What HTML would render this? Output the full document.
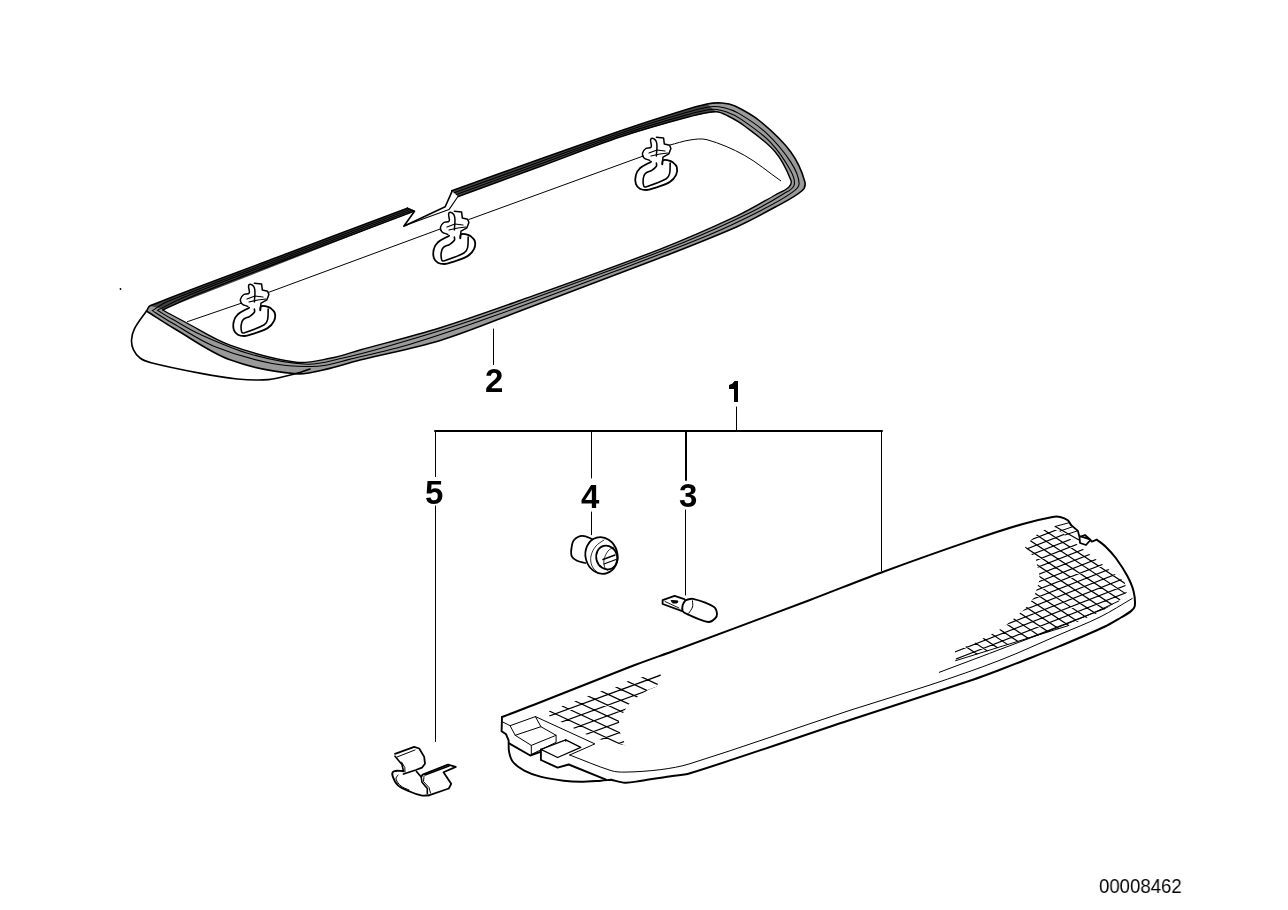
<!DOCTYPE html>
<html><head><meta charset="utf-8"><style>
html,body{margin:0;padding:0;background:#fff;width:1288px;height:910px;overflow:hidden}
svg{position:absolute;left:0;top:0}
.lb{position:absolute;will-change:transform;font-family:"Liberation Sans",sans-serif;font-weight:bold;font-size:33px;line-height:1;color:#000}
.id{position:absolute;will-change:transform;font-family:"Liberation Sans",sans-serif;font-size:21px;line-height:1;color:#000;transform-origin:0 0}
</style></head><body>
<svg width="1288" height="910" viewBox="0 0 1288 910" stroke="#000" stroke-linejoin="round" stroke-linecap="round" fill="none"><path d="M451.8,190.7 C479.9,180.6 507.9,170.5 536,160.5 C564,150.6 591.9,140.6 620,131 C639.9,124.2 659.9,117.7 680,111.5 C688.9,108.7 697.8,105.9 707,104 C711.9,103 717,102.6 722,103 C726.4,103.3 731,104.1 735,106 C743.7,110.2 752.3,114.9 759.8,121 C771.1,130.3 782.1,140.3 790.8,152 C797.3,160.8 801.9,171.1 804.8,181.6 C805.7,184.8 804.2,188.8 801.7,191 C793.9,197.7 784.3,202 775.3,207 C762.7,213.9 750.1,220.9 737,226.7 C711.3,238 685.1,248.1 659,258.3 C612.8,276.2 566.4,293.6 520,311 C493.2,321.1 466.8,332.3 439.5,340.7 C413.4,348.7 386.4,353.3 360,360 C349.9,362.5 340.2,366.2 330,368.4 C318.8,370.8 307.4,374.8 296,373.8 C273.6,371.9 251.1,367.6 230,359.8 C210.3,352.5 193.1,339.6 175,329 C165.3,323.3 156,317 146.5,311 C147.7,309.3 148.1,306.6 150,305.8 C192.2,288.5 235.3,273.2 278,257 C321.1,240.7 364.3,224.5 407.4,208.2 L414.5,211.2 C371.3,227.5 328.1,243.5 285,260 C256.6,270.9 228.2,281.7 200,293.2 C187.3,298.4 175,304.4 162.5,310 C165,311.3 167.5,312.7 170,314 C175,316.7 180,319.4 185,322 C200,329.8 214.1,339.4 230,345.1 C251.4,352.8 273.5,359.2 296,362.2 C307.3,363.7 318.8,360.4 330,358.3 C340.2,356.4 350,352.8 360,350 C386.5,342.7 413.2,336.1 439.5,328 C466.6,319.6 493.3,310 520,300.5 C566.5,283.9 613,267.5 659,249.6 C685.4,239.3 711.4,227.9 737,215.9 C750.2,209.7 762.6,202.1 775.3,195 C779.9,192.4 785.2,190.7 789,187 C790.7,185.3 791.7,182.2 790.8,180 C786.9,170.1 782.2,160.1 775.3,152 C766.5,141.7 755,133.9 744.2,125.7 C739.2,121.9 733.6,118.8 728,116 C724.2,114.1 720.2,111.7 716,111.8 C707.2,111.9 698.5,114.3 690,116.5 C666.5,122.7 643.1,129.3 620,137 C593,146 566.7,156.7 540,166.5 C512.8,176.5 485.5,186.5 458.3,196.5Z" fill="#9a9a9a" stroke="none"/>
<path d="M150,305.8 L407.4,208.2 L414.5,211.2 L409,213.3 L163,309.5Z" fill="#444" stroke="none"/>
<path d="M451.8,190.7 L536,160.5 L620,131 L680,111.5 L707,104 L716,111.8 L690,116.5 L620,137 L540,166.5 L458.3,196.5Z" fill="#444" stroke="none"/>
<path d="M451.8,190.7 C479.9,180.6 507.9,170.5 536,160.5 C564,150.6 591.9,140.6 620,131 C639.9,124.2 659.9,117.7 680,111.5 C688.9,108.7 697.8,105.9 707,104 C711.9,103 717,102.6 722,103 C726.4,103.3 731,104.1 735,106 C743.7,110.2 752.3,114.9 759.8,121 C771.1,130.3 782.1,140.3 790.8,152 C797.3,160.8 801.9,171.1 804.8,181.6 C805.7,184.8 804.2,188.8 801.7,191 C793.9,197.7 784.3,202 775.3,207 C762.7,213.9 750.1,220.9 737,226.7 C711.3,238 685.1,248.1 659,258.3 C612.8,276.2 566.4,293.6 520,311 C493.2,321.1 466.8,332.3 439.5,340.7 C413.4,348.7 386.4,353.3 360,360 C349.9,362.5 340.2,366.2 330,368.4 C318.8,370.8 307.4,374.8 296,373.8 C273.6,371.9 251.1,367.6 230,359.8 C210.3,352.5 193.1,339.6 175,329 C165.3,323.3 156,317 146.5,311 C147.7,309.3 148.1,306.6 150,305.8 C192.2,288.5 235.3,273.2 278,257 C321.1,240.7 364.3,224.5 407.4,208.2" stroke-width="1.6" fill="none"/>
<path d="M454.1,192.8 C481.9,182.7 509.7,172.6 537.4,162.7 C564.9,152.8 592.3,142.5 620,133.2 C641,126.1 662.3,119.5 683.6,113.3 C692.4,110.7 701.2,108.1 710.2,106.8 C714.8,106.2 719.6,106.7 724.2,107.7 C729.1,108.8 734,110.5 738.3,113.1 C747.8,118.7 757.3,124.6 765.4,132.2 C774.9,141.1 783.6,151.1 790.8,162.1 C795,168.5 798.8,175.9 799.1,183.5 C799.3,187.3 795.3,190.3 792.2,192.4 C782.6,199.3 772,204.8 761.5,210.2 C744.3,219 726.8,227.5 708.9,234.9 C675.9,248.6 642.4,260.9 609,273.5 C569.7,288.3 530.5,303.1 491,317.1 C464.5,326.6 437.9,336 410.9,344 C390.6,350.1 369.8,354.5 349.2,359.4 C338.8,361.9 328.5,365.6 317.8,366.2 C302.6,367 287.2,366.3 272.2,363.5 C252.3,359.6 232.6,353.8 213.8,346.2 C199.4,340.4 186.6,331.3 173.2,323.6 C166.1,319.5 159.2,315 152.3,310.6 C157.5,307.5 162.3,303.6 168,301.3 C205.2,286 243,272.4 280.5,258.1 C323.6,241.7 366.8,225.5 410,209.3" stroke-width="1.1" fill="none"/>
<path d="M456.2,194.6 C483.7,184.6 511.2,174.6 538.7,164.6 C565.8,154.7 592.7,144.2 620,135.1 C642.1,127.7 664.4,121.1 686.8,114.9 C695.4,112.5 704.2,110 713.1,109.3 C717.5,109 721.9,110.4 726.1,111.8 C731.4,113.7 736.6,116.2 741.3,119.4 C751.4,126.3 761.8,133.2 770.3,142.1 C778.5,150.6 785.1,160.7 790.8,171 C793.1,175.3 795.5,180.6 794.1,185.3 C792.7,189.5 787.5,191.4 783.7,193.7 C772.5,200.7 761.1,207.3 749.3,213.1 C727.8,223.5 706.1,233.4 684,242.3 C644.5,258.1 604.4,272.3 564.5,287 C531.5,299.1 498.6,311.4 465.3,322.6 C438.9,331.4 412.2,339.3 385.4,347 C370.3,351.4 355,355.5 339.6,358.8 C328.8,361.2 317.9,364.8 306.9,364.2 C288,363.2 269.3,359.4 251.1,354.3 C233.3,349.3 216.3,341.6 199.4,334.1 C189.7,329.8 180.8,324 171.6,318.8 C166.8,316.1 162.1,313.1 157.4,310.3 C166.3,306 174.8,301 184,297.2 C216.7,283.9 249.8,271.6 282.8,259 C325.9,242.6 369.1,226.5 412.2,210.2" stroke-width="1.1" fill="none"/>
<path d="M458.3,196.5 C485.5,186.5 512.8,176.5 540,166.5 C566.7,156.7 593,146 620,137 C643.1,129.3 666.5,122.7 690,116.5 C698.5,114.3 707.2,111.9 716,111.8 C720.2,111.7 724.2,114.1 728,116 C733.6,118.8 739.2,121.9 744.2,125.7 C755,133.9 766.5,141.7 775.3,152 C782.2,160.1 786.9,170.1 790.8,180 C791.7,182.2 790.7,185.3 789,187 C785.2,190.7 779.9,192.4 775.3,195 C762.6,202.1 750.2,209.7 737,215.9 C711.4,227.9 685.4,239.3 659,249.6 C613,267.5 566.5,283.9 520,300.5 C493.3,310 466.6,319.6 439.5,328 C413.2,336.1 386.5,342.7 360,350 C350,352.8 340.2,356.4 330,358.3 C318.8,360.4 307.3,363.7 296,362.2 C273.5,359.2 251.4,352.8 230,345.1 C214.1,339.4 200,329.8 185,322 C180,319.4 175,316.7 170,314 C167.5,312.7 165,311.3 162.5,310 C175,304.4 187.3,298.4 200,293.2 C228.2,281.7 256.6,270.9 285,260 C328.1,243.5 371.3,227.5 414.5,211.2" stroke-width="1.4" fill="none"/>
<path d="M407.4,208.2 L414.5,211.2 L403.8,226.3 L445.2,206.8 L451.8,191.9 L451.8,190.7" stroke-width="1.6" fill="none"/>
<path d="M405,225.4 L449,209.6 L458.3,196" stroke-width="1.1" fill="none"/>
<path d="M146.5,311 C142.4,317 137.6,322.6 134.3,329.1 C132.5,332.5 131.7,336.5 131.5,340.3 C131.4,343.5 132,346.7 133.4,349.6 C134.9,352.8 137.1,355.9 140,358 C143.2,360.4 147.2,361.7 151.1,362.7 C167.6,366.9 184.3,370.2 201,373.4 C213,375.7 225.1,377.9 237.3,379 C247.6,379.9 258,380.6 268.3,379.6 C278,378.7 287.5,375.8 297,373.4 C301.4,372.3 305.7,370.5 310,369" stroke-width="1.6" fill="none"/>
<path d="M187.4,321.7 L241,303.3" stroke-width="1" fill="none"/>
<path d="M268.5,292.4 L439.9,229.1" stroke-width="1" fill="none"/>
<path d="M468.9,219.5 L643.3,156" stroke-width="1" fill="none"/>
<path d="M669.7,145.1 C676.5,143.4 683.1,141 690,140 C695.6,139.2 701.5,138.2 707,139.7 C719.9,143.3 732.5,148.7 744.2,155.2 C757.2,162.4 768.5,172.3 780.7,180.8" stroke-width="1" fill="none"/>
<circle cx="120.5" cy="289" r="0.9" fill="#000" stroke="none"/>
<g id="clipsym"><path d="M449.1,235.7 C445.4,237.9 441.2,239.5 437.9,242.3 C436,244 434.5,246.4 433.9,248.9 C433.1,251.9 433,255.2 433.9,258.1 C434.5,260.1 436.1,261.7 437.9,262.7 C439.9,263.8 442.3,264 444.5,264 C446.5,264 448.5,263.4 450.4,262.7 C456.2,260.7 462.3,259.2 467.6,256.1 C470.4,254.5 472.7,251.8 474.1,248.9 C475.2,246.5 475.5,243.6 474.8,241 C474.3,239 472.4,237.6 470.8,236.3 C469.5,235.3 467.8,234.7 466.2,234.4 C464.5,234.1 462.4,233.4 461,234.4 C459.9,235.1 460.5,237 460.3,238.3" stroke-width="1.8" fill="none"/><path d="M454.4,237 C454.4,238.1 455,239.4 454.4,240.3 C453.3,242 451.5,243.2 449.8,244.3 C447.7,245.6 444.9,245.9 443.2,247.6 C441.9,248.9 441.4,251 441.2,252.8 C440.9,255.2 440.9,257.8 441.8,260.1 C442.2,261 443.6,261 444.5,260.7 C451.3,258.5 458.1,256.3 464.3,252.8 C466.1,251.8 467.1,249.6 467.6,247.6 C468.4,244.2 468,240.5 468.2,237" stroke-width="1.6" fill="none"/><path d="M447.8,234.4 C445.8,233.5 443.4,233.3 441.8,231.7 C440.7,230.6 440.2,228.7 440.5,227.1 C440.9,225.3 442.2,223.6 443.8,222.5 C445.3,221.5 448.2,222.8 449.1,221.2 C450.5,218.7 447.1,214.6 449.1,212.6 C450.6,211.1 453.8,213.9 454.4,215.9 C455.8,220.4 454.4,225.3 454.4,230" stroke-width="1.5" fill="none"/><path d="M454.4,211.3 L461.6,212 L462.3,217.9 L467.6,219.2 L468.9,222.5 L466.9,227.8 L461,231.1 L460.3,238" stroke-width="1.5" fill="none"/><path d="M447,227 L455,224 L463,225" stroke-width="1.2" fill="none"/><path d="M449,230 L458,228 L466,227" stroke-width="1.2" fill="none"/></g>
<g transform="translate(-200,72)"><g><path d="M449.1,235.7 C445.4,237.9 441.2,239.5 437.9,242.3 C436,244 434.5,246.4 433.9,248.9 C433.1,251.9 433,255.2 433.9,258.1 C434.5,260.1 436.1,261.7 437.9,262.7 C439.9,263.8 442.3,264 444.5,264 C446.5,264 448.5,263.4 450.4,262.7 C456.2,260.7 462.3,259.2 467.6,256.1 C470.4,254.5 472.7,251.8 474.1,248.9 C475.2,246.5 475.5,243.6 474.8,241 C474.3,239 472.4,237.6 470.8,236.3 C469.5,235.3 467.8,234.7 466.2,234.4 C464.5,234.1 462.4,233.4 461,234.4 C459.9,235.1 460.5,237 460.3,238.3" stroke-width="1.8" fill="none"/><path d="M454.4,237 C454.4,238.1 455,239.4 454.4,240.3 C453.3,242 451.5,243.2 449.8,244.3 C447.7,245.6 444.9,245.9 443.2,247.6 C441.9,248.9 441.4,251 441.2,252.8 C440.9,255.2 440.9,257.8 441.8,260.1 C442.2,261 443.6,261 444.5,260.7 C451.3,258.5 458.1,256.3 464.3,252.8 C466.1,251.8 467.1,249.6 467.6,247.6 C468.4,244.2 468,240.5 468.2,237" stroke-width="1.6" fill="none"/><path d="M447.8,234.4 C445.8,233.5 443.4,233.3 441.8,231.7 C440.7,230.6 440.2,228.7 440.5,227.1 C440.9,225.3 442.2,223.6 443.8,222.5 C445.3,221.5 448.2,222.8 449.1,221.2 C450.5,218.7 447.1,214.6 449.1,212.6 C450.6,211.1 453.8,213.9 454.4,215.9 C455.8,220.4 454.4,225.3 454.4,230" stroke-width="1.5" fill="none"/><path d="M454.4,211.3 L461.6,212 L462.3,217.9 L467.6,219.2 L468.9,222.5 L466.9,227.8 L461,231.1 L460.3,238" stroke-width="1.5" fill="none"/><path d="M447,227 L455,224 L463,225" stroke-width="1.2" fill="none"/><path d="M449,230 L458,228 L466,227" stroke-width="1.2" fill="none"/></g></g>
<g transform="translate(202,-74)"><g><path d="M449.1,235.7 C445.4,237.9 441.2,239.5 437.9,242.3 C436,244 434.5,246.4 433.9,248.9 C433.1,251.9 433,255.2 433.9,258.1 C434.5,260.1 436.1,261.7 437.9,262.7 C439.9,263.8 442.3,264 444.5,264 C446.5,264 448.5,263.4 450.4,262.7 C456.2,260.7 462.3,259.2 467.6,256.1 C470.4,254.5 472.7,251.8 474.1,248.9 C475.2,246.5 475.5,243.6 474.8,241 C474.3,239 472.4,237.6 470.8,236.3 C469.5,235.3 467.8,234.7 466.2,234.4 C464.5,234.1 462.4,233.4 461,234.4 C459.9,235.1 460.5,237 460.3,238.3" stroke-width="1.8" fill="none"/><path d="M454.4,237 C454.4,238.1 455,239.4 454.4,240.3 C453.3,242 451.5,243.2 449.8,244.3 C447.7,245.6 444.9,245.9 443.2,247.6 C441.9,248.9 441.4,251 441.2,252.8 C440.9,255.2 440.9,257.8 441.8,260.1 C442.2,261 443.6,261 444.5,260.7 C451.3,258.5 458.1,256.3 464.3,252.8 C466.1,251.8 467.1,249.6 467.6,247.6 C468.4,244.2 468,240.5 468.2,237" stroke-width="1.6" fill="none"/><path d="M447.8,234.4 C445.8,233.5 443.4,233.3 441.8,231.7 C440.7,230.6 440.2,228.7 440.5,227.1 C440.9,225.3 442.2,223.6 443.8,222.5 C445.3,221.5 448.2,222.8 449.1,221.2 C450.5,218.7 447.1,214.6 449.1,212.6 C450.6,211.1 453.8,213.9 454.4,215.9 C455.8,220.4 454.4,225.3 454.4,230" stroke-width="1.5" fill="none"/><path d="M454.4,211.3 L461.6,212 L462.3,217.9 L467.6,219.2 L468.9,222.5 L466.9,227.8 L461,231.1 L460.3,238" stroke-width="1.5" fill="none"/><path d="M447,227 L455,224 L463,225" stroke-width="1.2" fill="none"/><path d="M449,230 L458,228 L466,227" stroke-width="1.2" fill="none"/></g></g>
<line x1="493.5" y1="329" x2="493.5" y2="364.6" stroke-width="1"/>
<path d="M435,431 L882,431" stroke-width="2"/>
<line x1="736.5" y1="407" x2="736.5" y2="430" stroke-width="1"/>
<path d="M729,385 L732.5,383.5 L734.5,381 L738,381 L738,402 L734,402 L734,389 L729,389Z" fill="#000" stroke="none"/>
<line x1="435.5" y1="431" x2="435.5" y2="476.6" stroke-width="1"/>
<line x1="435.5" y1="506" x2="435.5" y2="741.5" stroke-width="1"/>
<line x1="591.5" y1="431" x2="591.5" y2="478" stroke-width="1"/>
<line x1="591.5" y1="512" x2="591.5" y2="534.7" stroke-width="1"/>
<line x1="686" y1="431" x2="686" y2="480" stroke-width="2"/>
<line x1="685.5" y1="510" x2="685.5" y2="595" stroke-width="1"/>
<line x1="881.5" y1="431" x2="881.5" y2="570.6" stroke-width="1"/>
<path d="M593.3,539.5 C589.7,538.3 586.2,535.8 582.4,535.9 C579.3,536 576.1,537.7 574,540 C572.1,542.1 571.9,545.2 571.5,548 C571.1,550.8 570.7,553.8 571.8,556.4 C572.7,558.5 575,559.7 577,560.7 C579.6,562 582.6,562.2 585.4,563" stroke-width="1.8" fill="none"/>
<ellipse cx="601.5" cy="555.5" rx="16" ry="18.5" transform="rotate(-15 601.5 555.5)" fill="#fff" stroke-width="1.8"/>
<ellipse cx="606.8" cy="557.5" rx="10.5" ry="12" transform="rotate(-15 606.8 557.5)" fill="none" stroke-width="1.8"/>
<path d="M604,540 C601.3,542 598.1,543.4 596,546 C593.6,548.9 591.7,552.3 591,556 C590.3,559.3 590.7,562.9 592,566 C593.2,568.8 596,570.7 598,573" stroke-width="0.8" fill="none"/>
<path d="M614,547 C612,548.3 609.5,549.1 608,551 C606,553.6 604.6,556.8 604,560 C603.5,562.6 604.1,565.5 605,568 C605.5,569.3 607,570 608,571" stroke-width="0.8" fill="none"/>
<path d="M603,559.5 L615,555" stroke-width="1.5" fill="none"/>
<path d="M604,564 L616,559.5" stroke-width="1.3" fill="none"/>
<path d="M684.3,599.1 L674.6,595.9 L662.6,600.2 L662.6,604 L682.2,611.1" stroke-width="1.8" fill="none"/>
<path d="M665,601.5 L679,608" stroke-width="0.9" fill="none"/>
<path d="M671.5,600.5 L678,601 L677,603 L673,603Z" fill="#000" stroke-width="1"/>
<path d="M685.4,600.2 C687.9,599.7 690.5,598.2 693,598.8 C700.2,600.5 707.4,602.8 713.7,606.7 C715.9,608.1 716.8,611.2 717,613.8 C717.2,615.6 716.1,617.5 714.8,618.7 C713,620.4 710.7,622.4 708.3,622 C701,620.8 694.4,617.2 687.6,614.3 C685.8,613.5 683.6,612.8 682.7,611.1 C681.8,609.3 682.2,607 682.7,605.1 C683.1,603.3 684.5,601.8 685.4,600.2" stroke-width="1.9" fill="none"/>
<path d="M692.5,600.8 C692.5,602.9 693.1,605 692.5,607 C691.8,609.3 690,611.2 688.7,613.3" stroke-width="1" fill="none"/>
<path d="M395,753.8 L414.2,746.9 L419.2,748.5 L424.2,756.9 L425,763.8 L421.9,767.7 L415.8,770 L403.5,774" stroke-width="1.8" fill="none"/>
<path d="M395,756.2 L402,764.6 L403.5,771.5" stroke-width="1.6" fill="none"/>
<path d="M397,757 L415,750" stroke-width="1" fill="none"/>
<path d="M403.5,771 C400.2,771.2 396.5,770.1 393.5,771.5 C392.1,772.2 392.2,774.7 392.7,776.2 C393.8,779.6 395.4,783 398,785.4 C401.2,788.3 405.6,789.8 409.6,791.5 C413.3,793.1 417.2,794.6 421.2,795.4 C423.7,795.9 426.3,795.4 428.8,795.4" stroke-width="1.9" fill="none"/>
<path d="M416.5,771.5 L421.2,777 L422.7,774.6 L448,764.6 L455.8,766.9 L443.5,772.3 L451.2,783.8 L448.8,788.5 L428.8,795.4" stroke-width="1.8" fill="none"/>
<path d="M421.2,777 L422,782.3 L427.3,788.5 L427.3,793.8" stroke-width="1.6" fill="none"/>
<path d="M425,775 L449,766" stroke-width="1.5" fill="none"/>
<path d="M401.5,762 L404.8,767.5 L405,772" stroke-width="1" fill="none"/>
<path d="M398,775 C397.3,776.3 395.6,777.6 396,779 C396.8,781.8 398.8,784.1 401,786 C403.3,787.9 406.3,788.7 409,790" stroke-width="1" fill="none"/>
<path d="M424,776.5 L423.5,781.5 L429,787.5 L430.5,793" stroke-width="1" fill="none"/>
<path d="M502,717 C512.5,713 523,709.1 533.4,705 C567.3,691.7 601,678.1 634.9,665 C648.6,659.7 662.5,655.1 676.2,650 C720.8,633.4 765.5,616.8 810,600 C833.6,591.1 857,581.4 880.7,572.7 C910.9,561.6 941.2,550.8 971.6,540.4 C988.3,534.7 1005,529.1 1022,524.2 C1032.1,521.3 1042.3,518.9 1052.6,517 C1055.1,516.5 1057.7,516.5 1060.2,517 C1062.9,517.6 1065.6,518.6 1067.8,520.2 C1069.3,521.3 1069.9,523.4 1071,525" stroke-width="2" fill="none"/>
<path d="M1071,525 L1077.9,530.9 L1079.2,536 L1083,537.2 L1089.3,539.1 L1091.8,541.6 L1096.9,539.7" stroke-width="1.8" fill="none"/>
<path d="M1079.5,537 L1085,535 L1090.5,540 L1086,545 L1080,543Z" stroke-width="1.8" fill="none"/>
<path d="M1096.9,539.7 C1099.8,542 1103,544.1 1105.7,546.7 C1109.3,550.2 1112.8,553.9 1115.8,558 C1120,563.7 1123.9,569.6 1127.2,575.8 C1129.8,580.6 1132.2,585.7 1133.5,591 C1134.7,595.9 1135.4,601.1 1134.8,606.1 C1134.5,608.2 1132.6,609.8 1131,611.1 C1127.9,613.6 1124.4,615.5 1121,617.5 C1115.7,620.6 1110.5,623.9 1105,626.5 C1089.9,633.6 1074.5,640 1059.2,646.4 C1047.9,651.1 1036.6,655.5 1025.2,660 C1016.8,663.3 1008.4,666.6 1000,669.8 C991.2,673.1 982.5,676.5 973.6,679.5 C932.5,693.3 891.2,706.4 850,720 C796.6,737.7 743.7,756.6 690,773.3 C683.3,775.4 676.2,775.3 669.3,776.4 C659.5,777.9 649.8,779.6 640,781 C635,781.7 630,782.9 625,782.7 C620.3,782.5 615.7,780.7 611.1,779.7" stroke-width="2" fill="none"/>
<path d="M502,717 L501.6,731.2 L506.1,734.3 L508.6,740.3 C508.8,744.2 508.3,748.2 509.1,752 C509.8,755.5 510.7,759.2 513,762 C516,765.7 520.1,768.4 524.3,770.6 C529.4,773.3 534.8,775.3 540.4,776.7 C548,778.7 555.8,779.7 563.6,780.7 C569.3,781.4 575.1,781.7 580.8,781.7 C587.5,781.7 594.3,781.1 601,780.7 C604.4,780.5 607.7,780 611.1,779.7" stroke-width="1.9" fill="none"/>
<path d="M509.1,743.4 L530.3,755.5 L540.4,751.9" stroke-width="1.9" fill="none"/>
<path d="M540.9,749.4 L540.9,760 L557.6,767.6 L568.7,764.5 L606,779.7" stroke-width="1.9" fill="none"/>
<path d="M569.7,755 C583.5,760.2 597,766.2 611.1,770.6 C615.6,772 620.3,772.2 625,772.1 C637,771.9 648.9,771.1 660.8,769.6 C670.6,768.3 680.5,766.7 690,763.7 C743.7,746.9 796.6,727.8 850,710.3 C876.6,701.6 903.5,693.9 930,685 C953.5,677.2 976.9,669.2 1000,660.2 C1020.3,652.3 1040,643 1060,634.4 C1073.3,628.6 1087,623.5 1100,617 C1111.1,611.5 1121.5,604.7 1132.2,598.5" stroke-width="1" fill="none"/>
<path d="M955.6,660.7 L1068.2,625.7" stroke-width="1" fill="none"/>
<path d="M939.3,672.3 C972.9,659.6 1006.5,647.1 1040,634.3 C1055.1,628.5 1070.1,622.8 1085,616.5 C1096.4,611.7 1107.5,606.2 1118.8,601" stroke-width="1" fill="none"/>
<path d="M502.1,721.7 L510.1,725.7 L535.4,716.6 L540.9,726.7 L556.1,735.3 L556.1,742.3 L531.3,754.5" stroke-width="1" fill="none"/>
<path d="M510.1,725.7 L515.2,735.3 L531.3,745.4 L556.1,735.3" stroke-width="1" fill="none"/>
<path d="M515.2,735.3 L540.9,726.7" stroke-width="1" fill="none"/>
<path d="M531.3,745.4 L531.3,754.5" stroke-width="1" fill="none"/>
<path d="M540.9,749.4 L565.7,739.8 L580.8,747.4 L557.6,757.5 L540.9,749.4" stroke-width="1.3" fill="none"/>
<path d="M535.4,716.6 L594.9,743.9 L569.7,755" stroke-width="1" fill="none"/>
<path d="M565.7,739.8 L565.7,741" stroke-width="1.5" fill="none"/>
<clipPath id="gl"><path d="M549,711 L565,705 L588,696 L603,690.5 L618,686.5 L629,680.5 L640,677.5 L661,674.5 L657,686.5 L648,690 L638,696.5 L629,704 L624,711.5 L619,720 L619.5,730.5 L621,735.5 L626,745.5 L608.5,742 L589.5,736 L575,729 L561,722 L549,716Z"/></clipPath>
<path d="M540,677 L670,629.3 M540,687.6 L670,639.9 M540,698.2 L670,650.5 M540,708.8 L670,661.1 M540,719.4 L670,671.7 M540,730 L670,682.3 M540,740.6 L670,692.9 M540,751.2 L670,703.5 M540,761.8 L670,714.1 M540,772.4 L670,724.7 M540,574.7 L670,635.2 M540,585.7 L670,646.2 M540,596.7 L670,657.2 M540,607.7 L670,668.2 M540,618.7 L670,679.2 M540,629.7 L670,690.2 M540,640.7 L670,701.2 M540,651.7 L670,712.2 M540,662.7 L670,723.2 M540,673.7 L670,734.2 M540,684.7 L670,745.2 M540,695.7 L670,756.2 M540,706.7 L670,767.2 M540,717.7 L670,778.2 M540,728.7 L670,789.2" stroke-width="1.2" clip-path="url(#gl)"/>
<clipPath id="gr"><path d="M1040.5,531 L1050,528.5 L1060,531 L1124.7,582 L1127,592 L1120,600 L1102,611 L1068,626 L1025,639.5 L983,652.5 L956,661 L955,651 L974.6,643 L1002.6,628 L1024.9,609 L1034,597.5 L1039.7,579.3 L1038.9,572.7 L1035.6,558.7 L1024.9,547.2 L1030,541Z"/></clipPath>
<path d="M940,507.8 L1140,429.8 M940,515.3 L1140,437.3 M940,522.8 L1140,444.8 M940,530.3 L1140,452.3 M940,537.8 L1140,459.8 M940,545.3 L1140,467.3 M940,552.8 L1140,474.8 M940,560.3 L1140,482.3 M940,567.8 L1140,489.8 M940,575.3 L1140,497.3 M940,582.8 L1140,504.8 M940,590.3 L1140,512.3 M940,597.8 L1140,519.8 M940,605.3 L1140,527.3 M940,612.8 L1140,534.8 M940,620.3 L1140,542.3 M940,627.8 L1140,549.8 M940,635.3 L1140,557.3 M940,642.8 L1140,564.8 M940,650.3 L1140,572.3 M940,657.8 L1140,579.8 M940,665.3 L1140,587.3 M940,672.8 L1140,594.8 M940,680.3 L1140,602.3 M940,687.8 L1140,609.8 M940,695.3 L1140,617.3 M940,702.8 L1140,624.8 M940,710.3 L1140,632.3 M940,322.7 L1140,454.7 M940,332.6 L1140,464.6 M940,342.5 L1140,474.5 M940,352.4 L1140,484.4 M940,362.3 L1140,494.3 M940,372.2 L1140,504.2 M940,382.1 L1140,514.1 M940,392 L1140,524 M940,401.9 L1140,533.9 M940,411.8 L1140,543.8 M940,421.7 L1140,553.7 M940,431.6 L1140,563.6 M940,441.5 L1140,573.5 M940,451.4 L1140,583.4 M940,461.3 L1140,593.3 M940,471.2 L1140,603.2 M940,481.1 L1140,613.1 M940,491 L1140,623 M940,500.9 L1140,632.9 M940,510.8 L1140,642.8 M940,520.7 L1140,652.7 M940,530.6 L1140,662.6 M940,540.5 L1140,672.5 M940,550.4 L1140,682.4 M940,560.3 L1140,692.3 M940,570.2 L1140,702.2 M940,580.1 L1140,712.1 M940,590 L1140,722 M940,599.9 L1140,731.9 M940,609.8 L1140,741.8 M940,619.7 L1140,751.7 M940,629.6 L1140,761.6" stroke-width="1.2" clip-path="url(#gr)"/>
<path d="M1055.2,526.5 L1069,522.7" stroke-width="1" fill="none"/>
<path d="M1055.2,526.5 L1079,540" stroke-width="1.2" fill="none"/>
<path d="M1060,531 L1072,527" stroke-width="1" fill="none"/>
<path d="M1065,535 L1077,531" stroke-width="1" fill="none"/></svg>
<div class="lb" style="left:485.0px;top:364.0px">2</div>
<div class="lb" style="left:425.0px;top:475.5px">5</div>
<div class="lb" style="left:580.5px;top:480.0px">4</div>
<div class="lb" style="left:679.0px;top:478.5px">3</div>
<div class="id" style="left:1098.5px;top:874.5px;transform:scaleX(0.885)">00008462</div>
</body></html>
